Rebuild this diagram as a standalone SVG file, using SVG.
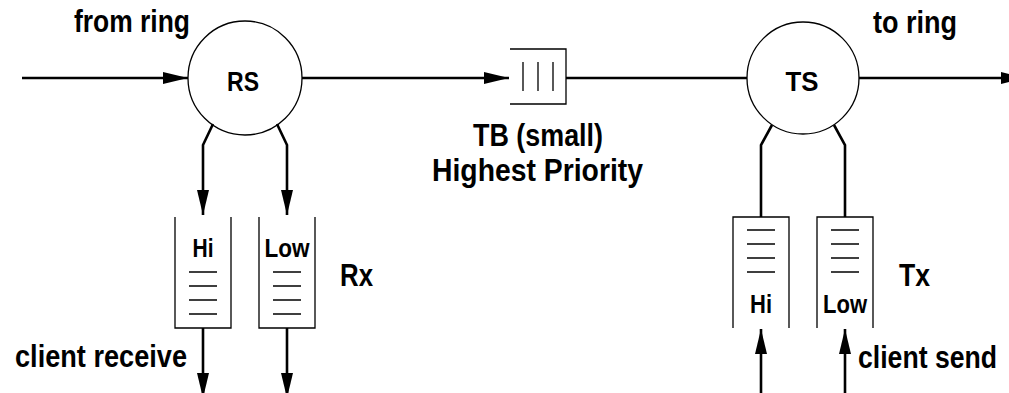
<svg xmlns="http://www.w3.org/2000/svg" width="1009" height="393" viewBox="0 0 1009 393">
<style>
  text { font-family: "Liberation Sans", Arial, sans-serif; font-weight: bold; fill: #000; }
  .thin { fill: none; stroke: #000; stroke-width: 1.3; }
  .wire { fill: none; stroke: #000; stroke-width: 2.6; }
  .big { font-size: 31px; }
  .node { font-size: 27px; }
  .q { font-size: 25px; }
  .lbl { font-size: 32px; }
</style>
<defs>
  <marker id="ah" markerUnits="userSpaceOnUse" markerWidth="26" markerHeight="14" refX="25" refY="6" orient="auto" viewBox="0 0 26 12">
    <polygon points="0,0 25,6 0,12" fill="#000"/>
  </marker>
</defs>
<rect width="1009" height="393" fill="#fff"/>

<g id="connectors">
  <path class="wire" d="M22,78 H188" marker-end="url(#ah)"/>
  <path class="wire" d="M302,78 H509" marker-end="url(#ah)"/>
  <path class="wire" d="M566,78 H747"/>
  <path class="wire" d="M859,78 H1026" marker-end="url(#ah)"/>
  <path class="wire" d="M213,124 L203,145 V215" marker-end="url(#ah)"/>
  <path class="wire" d="M277,124 L287,145 V215" marker-end="url(#ah)"/>
  <path class="wire" d="M203,328 V398" marker-end="url(#ah)"/>
  <path class="wire" d="M287,328 V398" marker-end="url(#ah)"/>
  <path class="wire" d="M772,125 L761,145 V217"/>
  <path class="wire" d="M834,125 L845,145 V217"/>
  <path class="wire" d="M761,393 V329" marker-end="url(#ah)"/>
  <path class="wire" d="M845,393 V329" marker-end="url(#ah)"/>
</g>

<g id="RS">
  <circle class="thin" cx="245" cy="78" r="57" fill="#fff"/>
  <text class="node" x="243" y="91" text-anchor="middle" textLength="32" lengthAdjust="spacingAndGlyphs">RS</text>
</g>

<g id="TS">
  <circle class="thin" cx="803" cy="78" r="56" fill="#fff"/>
  <text class="node" x="802" y="91" text-anchor="middle" textLength="33" lengthAdjust="spacingAndGlyphs">TS</text>
</g>

<g id="TB">
  <path class="thin" d="M510,49 H566 V104 H510"/>
  <path class="thin" d="M523,62 V91 M538,62 V91 M553,62 V91"/>
  <text class="big" x="473" y="146" textLength="130" lengthAdjust="spacingAndGlyphs">TB (small)</text>
  <text class="big" x="432" y="181" textLength="211" lengthAdjust="spacingAndGlyphs">Highest Priority</text>
</g>

<g id="RxHi">
  <path class="thin" d="M175,217 V328 H231 V217"/>
  <path class="thin" d="M189,272 H217 M189,286 H217 M189,300 H217 M189,314 H217"/>
  <text class="q" x="203" y="257" text-anchor="middle" textLength="21" lengthAdjust="spacingAndGlyphs">Hi</text>
</g>

<g id="RxLow">
  <path class="thin" d="M259,217 V328 H315 V217"/>
  <path class="thin" d="M273,272 H301 M273,286 H301 M273,300 H301 M273,314 H301"/>
  <text class="q" x="287" y="257" text-anchor="middle" textLength="45" lengthAdjust="spacingAndGlyphs">Low</text>
</g>

<g id="TxHi">
  <path class="thin" d="M733,328 V217 H789 V328"/>
  <path class="thin" d="M747,230 H775 M747,244 H775 M747,258 H775 M747,272 H775"/>
  <text class="q" x="761" y="313" text-anchor="middle" textLength="22" lengthAdjust="spacingAndGlyphs">Hi</text>
</g>

<g id="TxLow">
  <path class="thin" d="M817,328 V217 H873 V328"/>
  <path class="thin" d="M831,230 H859 M831,244 H859 M831,258 H859 M831,272 H859"/>
  <text class="q" x="845" y="313" text-anchor="middle" textLength="44" lengthAdjust="spacingAndGlyphs">Low</text>
</g>

<g id="labels">
  <text class="big" x="74" y="32" textLength="116" lengthAdjust="spacingAndGlyphs">from ring</text>
  <text class="big" x="873" y="33" textLength="84" lengthAdjust="spacingAndGlyphs">to ring</text>
  <text class="lbl" x="340" y="286" textLength="33" lengthAdjust="spacingAndGlyphs">Rx</text>
  <text class="lbl" x="899" y="286" textLength="31" lengthAdjust="spacingAndGlyphs">Tx</text>
  <text class="big" x="15" y="367" textLength="172" lengthAdjust="spacingAndGlyphs">client receive</text>
  <text class="big" x="858" y="368" textLength="139" lengthAdjust="spacingAndGlyphs">client send</text>
</g>
</svg>
